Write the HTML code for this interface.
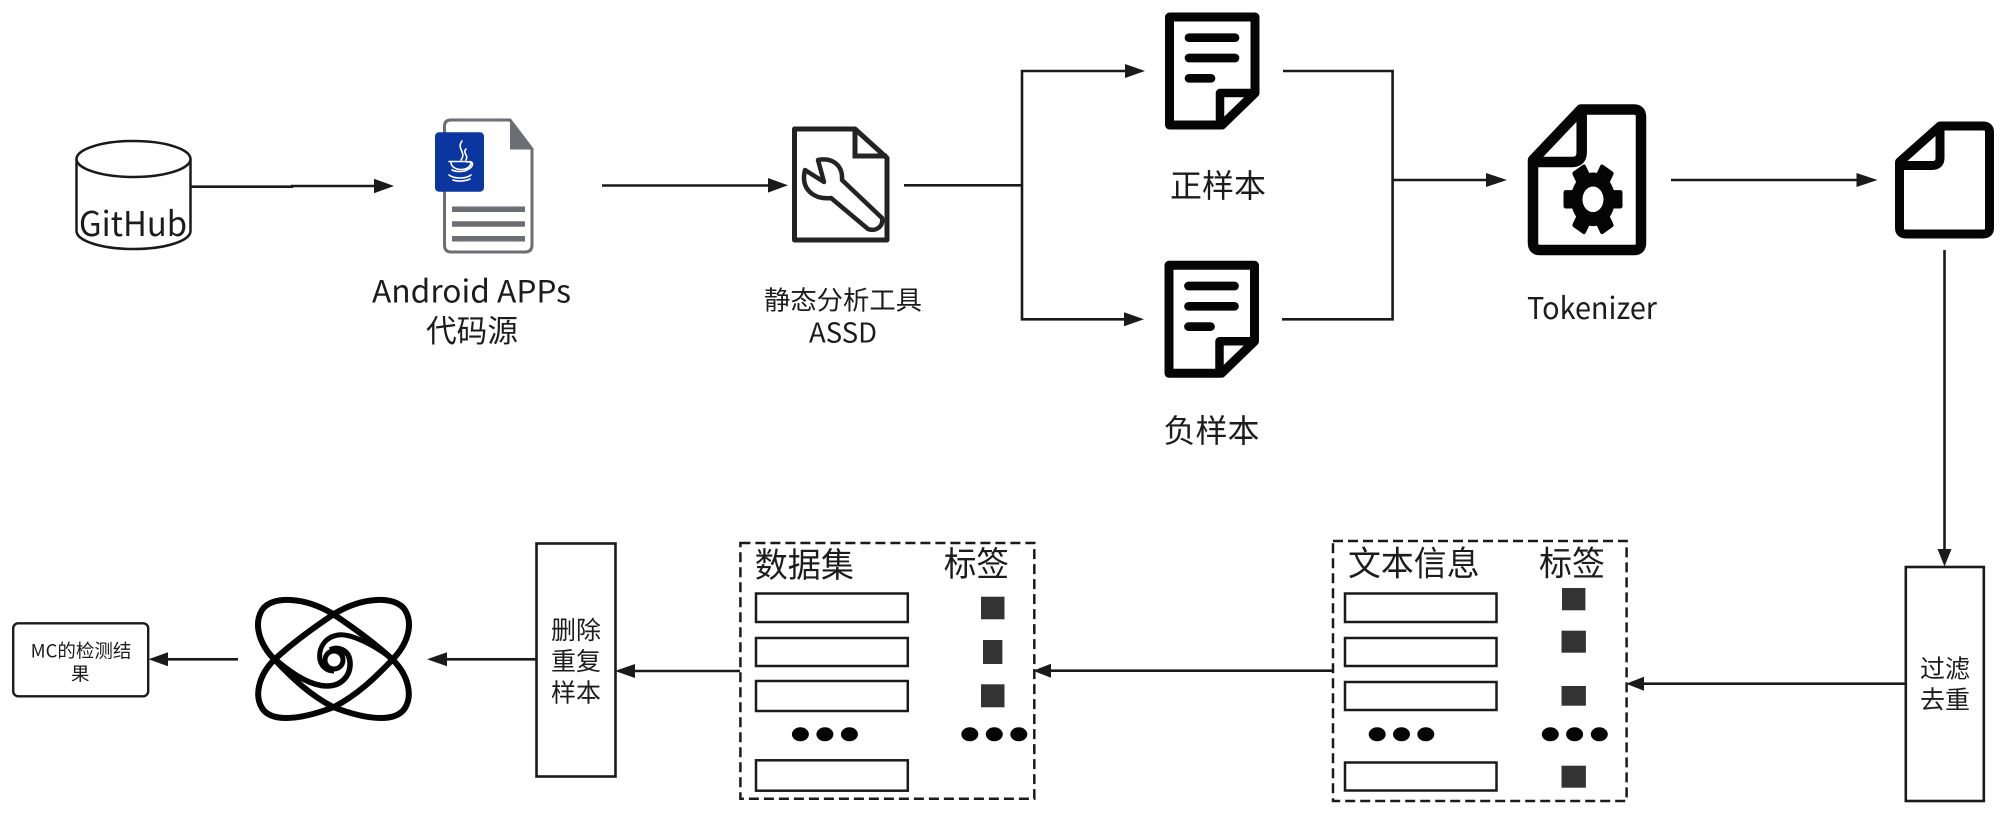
<!DOCTYPE html>
<html lang="zh">
<head>
<meta charset="utf-8">
<title>Diagram</title>
<style>
html,body{margin:0;padding:0;background:#fff;}
svg{display:block;filter:blur(0.35px);}
text{font-family:"Liberation Sans","Noto Sans CJK SC",sans-serif;fill:#1c1c1c;}
.c{font-family:"Noto Sans CJK SC","Liberation Sans",sans-serif;}
</style>
</head>
<body>
<svg width="2000" height="815" viewBox="0 0 2000 815" xmlns="http://www.w3.org/2000/svg">
<rect width="2000" height="815" fill="#fff"/>

<!-- GitHub cylinder -->
<path d="M76.5 159 V231 C76.5 241 102 249 133.5 249 C165 249 190.5 241 190.5 231 V159" fill="#fff" stroke="#1a1a1a" stroke-width="2.5"/>
<ellipse cx="133.5" cy="159" rx="57" ry="18" fill="#fff" stroke="#1a1a1a" stroke-width="2.5"/>
<text class="c" x="79" y="236" font-size="34" textLength="108" lengthAdjust="spacingAndGlyphs">GitHub</text>

<!-- connectors -->
<g stroke="#1a1a1a" stroke-width="2.6" fill="none">
<path d="M191 186.7 H292 V186 H376"/>
<path d="M602 185.5 H770"/>
<path d="M904 185.3 H1022"/>
<path d="M1127 71 H1022 V319.3 H1126"/>
<path d="M1283 71 H1392.6 V319.3 H1282"/>
<path d="M1392.6 180 H1488"/>
<path d="M1671 180 H1858"/>
<path d="M1944.5 250 V552"/>
<path d="M1904.6 683.7 H1642"/>
<path d="M1332 670.7 H1050"/>
<path d="M740 671 H633"/>
<path d="M535.5 659.3 H445"/>
<path d="M238 659.3 H166"/>
</g>
<g fill="#1a1a1a">
<polygon points="394,186 374,178.8 374,193.2"/>
<polygon points="788,185.3 768,178 768,192.6"/>
<polygon points="1145,71 1125,64 1125,78"/>
<polygon points="1144,319.3 1124,312.3 1124,326.3"/>
<polygon points="1507,180 1486,173 1486,187"/>
<polygon points="1877.5,180 1856.5,173 1856.5,187"/>
<polygon points="1944.5,566.5 1937.5,549 1951.5,549"/>
<polygon points="1626,683.7 1644,676.7 1644,690.7"/>
<polygon points="1033,670.7 1051,663.7 1051,677.7"/>
<polygon points="615,671 635,664 635,678"/>
<polygon points="427,659.3 447,652.3 447,666.3"/>
<polygon points="148.5,659.3 168,652.3 168,666.3"/>
</g>

<!-- Java doc -->
<path d="M510 120 H451 Q444.5 120 444.5 126 V245 Q444.5 252 451 252 H525 Q532 252 532 245 V149 Z" fill="#fff" stroke="#6d6d74" stroke-width="3"/>
<polygon points="510,119 533.5,149.5 510,149.5" fill="#6d6d74"/>
<rect x="435" y="132.3" width="49" height="59.4" rx="4" fill="#0b36a0"/>
<g stroke="#6d6d74" stroke-width="5.5">
<path d="M452 209.3 H525"/><path d="M452 224 H525"/><path d="M452 238.7 H525"/>
</g>
<g stroke="#fff" stroke-width="1.6" fill="none" stroke-linecap="round">
<path d="M462 141 C456 149 467 152 461 160"/>
<path d="M466 149 C462 153 469 155 466 160"/>
<path d="M451 162 C451 172 471 172 471 162"/>
<path d="M449 161.5 H467 M467 162 C475 160 474 168 466 170"/>
<path d="M452 170 C456 172 464 172 467 170"/>
<path d="M449 175 C454 179 466 179 471 175"/>
<path d="M453 180 C458 182 466 181 470 179"/>
</g>
<text class="c" x="372" y="302.7" font-size="31" textLength="199" lengthAdjust="spacingAndGlyphs">Android APPs</text>
<text class="c" x="426" y="342" font-size="31" textLength="92" lengthAdjust="spacingAndGlyphs">代码源</text>

<!-- Tool doc -->
<path d="M794.5 129 H855 L887 158 V240 H794.5 Z" fill="#fff" stroke="#232323" stroke-width="5" stroke-linejoin="round"/>
<path d="M855 129 V156 H887" fill="none" stroke="#232323" stroke-width="5"/>
<path d="M805 170 L824 182 L818 160 C832 157 843 165 842 180 L882 218 C884 226 876 232 868 229 L831 198 C815 200 800 190 805 170 Z" fill="#fff" stroke="#232323" stroke-width="4.5" stroke-linejoin="round"/>
<text class="c" x="764" y="309.5" font-size="26" textLength="158" lengthAdjust="spacingAndGlyphs">静态分析工具</text>
<text class="c" x="809" y="342.5" font-size="27" textLength="68" lengthAdjust="spacingAndGlyphs">ASSD</text>

<!-- Sample docs -->
<g>
<path d="M1169.5 17 H1255 V93 L1222 125 H1169.5 Z" fill="#fff" stroke="#050505" stroke-width="9" stroke-linejoin="round"/>
<path d="M1220 125 V93 H1255" fill="none" stroke="#050505" stroke-width="8.5" stroke-linejoin="round"/>
<g stroke="#050505" stroke-width="8.7" stroke-linecap="round">
<path d="M1189 37.7 H1235"/><path d="M1189 58 H1235"/><path d="M1189 78.3 H1211"/>
</g>
</g>
<g transform="translate(-0.5 248.3)">
<path d="M1169.5 17 H1255 V93 L1222 125 H1169.5 Z" fill="#fff" stroke="#050505" stroke-width="9" stroke-linejoin="round"/>
<path d="M1220 125 V93 H1255" fill="none" stroke="#050505" stroke-width="8.5" stroke-linejoin="round"/>
<g stroke="#050505" stroke-width="8.7" stroke-linecap="round">
<path d="M1189 37.7 H1235"/><path d="M1189 58 H1235"/><path d="M1189 78.3 H1211"/>
</g>
</g>
<text class="c" x="1170" y="197" font-size="32" textLength="96" lengthAdjust="spacingAndGlyphs">正样本</text>
<text class="c" x="1163.5" y="442" font-size="32" textLength="96" lengthAdjust="spacingAndGlyphs">负样本</text>

<!-- Tokenizer doc -->
<path d="M1533 160 L1581 109.5 H1634 Q1641 109.5 1641 117 V243 Q1641 250 1634 250 H1540 Q1533 250 1533 243 Z" fill="#fff" stroke="#050505" stroke-width="10.5" stroke-linejoin="round"/>
<path d="M1581.7 110 V152 Q1581.7 162 1572 162 H1533" fill="none" stroke="#050505" stroke-width="10.5"/>
<g transform="translate(1593 199.3) scale(1 1.22)">
<g fill="#050505">
<circle r="22"/>
<rect x="-7.5" y="-29.5" width="15" height="14" rx="2" transform="rotate(30)"/>
<rect x="-7.5" y="-29.5" width="15" height="14" rx="2" transform="rotate(90)"/>
<rect x="-7.5" y="-29.5" width="15" height="14" rx="2" transform="rotate(150)"/>
<rect x="-7.5" y="-29.5" width="15" height="14" rx="2" transform="rotate(210)"/>
<rect x="-7.5" y="-29.5" width="15" height="14" rx="2" transform="rotate(270)"/>
<rect x="-7.5" y="-29.5" width="15" height="14" rx="2" transform="rotate(330)"/>
</g>
<circle r="10.5" fill="#fff"/>
</g>
<text class="c" x="1527" y="319" font-size="30" textLength="130" lengthAdjust="spacingAndGlyphs">Tokenizer</text>

<!-- Small doc -->
<path d="M1899.5 162 L1940 126 H1983 Q1989.5 126 1989.5 132 V228 Q1989.5 234 1983 234 H1906 Q1899.5 234 1899.5 228 Z" fill="#fff" stroke="#050505" stroke-width="9" stroke-linejoin="round"/>
<path d="M1940 126 V158 Q1940 165.5 1932 165.5 H1899.5" fill="none" stroke="#050505" stroke-width="9"/>

<!-- Filter box -->
<rect x="1905.8" y="567" width="78" height="234" fill="#fff" stroke="#1a1a1a" stroke-width="2.6"/>
<text class="c" x="1920" y="677.5" font-size="25" textLength="50" lengthAdjust="spacingAndGlyphs">过滤</text>
<text class="c" x="1920" y="708.5" font-size="25" textLength="50" lengthAdjust="spacingAndGlyphs">去重</text>

<!-- Text info panel -->
<rect x="1333" y="541" width="293.6" height="260" fill="none" stroke="#1a1a1a" stroke-width="2.5" stroke-dasharray="10 5"/>
<text class="c" x="1348" y="575.5" font-size="34" textLength="131.6" lengthAdjust="spacingAndGlyphs">文本信息</text>
<text class="c" x="1539" y="575.5" font-size="34" textLength="66" lengthAdjust="spacingAndGlyphs">标签</text>
<g fill="#fff" stroke="#1a1a1a" stroke-width="2.5">
<rect x="1345" y="593.5" width="151.5" height="28.5"/>
<rect x="1345" y="638" width="151.5" height="28"/>
<rect x="1345" y="682" width="151.5" height="28"/>
<rect x="1345" y="762.5" width="151.5" height="28"/>
</g>
<g fill="#333">
<rect x="1562" y="588" width="23.4" height="22.3"/>
<rect x="1561.5" y="630.7" width="24.4" height="22"/>
<rect x="1561.5" y="686" width="24.4" height="19.7"/>
<rect x="1561.5" y="765.7" width="24.4" height="22"/>
</g>
<g fill="#050505">
<ellipse cx="1377.2" cy="734.3" rx="8.5" ry="7"/><ellipse cx="1401.5" cy="734.3" rx="8.5" ry="7"/><ellipse cx="1425.8" cy="734.3" rx="8.5" ry="7"/>
<ellipse cx="1550.3" cy="734.3" rx="8.5" ry="7"/><ellipse cx="1574.6" cy="734.3" rx="8.5" ry="7"/><ellipse cx="1599.3" cy="734.3" rx="8.5" ry="7"/>
</g>

<!-- Dataset panel -->
<rect x="740.4" y="543" width="293.9" height="255.7" fill="none" stroke="#1a1a1a" stroke-width="2.5" stroke-dasharray="10 5"/>
<text class="c" x="754.7" y="577" font-size="34" textLength="99.2" lengthAdjust="spacingAndGlyphs">数据集</text>
<text class="c" x="943.7" y="576" font-size="34" textLength="65.3" lengthAdjust="spacingAndGlyphs">标签</text>
<g fill="#fff" stroke="#1a1a1a" stroke-width="2.5">
<rect x="756" y="593.5" width="151.8" height="28.5"/>
<rect x="756" y="638" width="151.8" height="28"/>
<rect x="756" y="681" width="151.8" height="30"/>
<rect x="756" y="760.3" width="151.8" height="30.4"/>
</g>
<g fill="#333">
<rect x="981" y="596.7" width="23.5" height="22.6"/>
<rect x="983" y="640" width="19.4" height="24"/>
<rect x="981" y="684.3" width="23.5" height="23"/>
</g>
<g fill="#050505">
<ellipse cx="800.4" cy="734.3" rx="8.5" ry="7"/><ellipse cx="824.9" cy="734.3" rx="8.5" ry="7"/><ellipse cx="849.4" cy="734.3" rx="8.5" ry="7"/>
<ellipse cx="969.8" cy="734.3" rx="8.5" ry="7"/><ellipse cx="994.3" cy="734.3" rx="8.5" ry="7"/><ellipse cx="1018.8" cy="734.3" rx="8.5" ry="7"/>
</g>

<!-- Delete box -->
<rect x="536.5" y="543.5" width="79" height="233" fill="#fff" stroke="#1a1a1a" stroke-width="2.6"/>
<text class="c" x="551" y="639" font-size="25" textLength="50" lengthAdjust="spacingAndGlyphs">删除</text>
<text class="c" x="551" y="670" font-size="25" textLength="50" lengthAdjust="spacingAndGlyphs">重复</text>
<text class="c" x="551" y="701.5" font-size="25" textLength="50" lengthAdjust="spacingAndGlyphs">样本</text>

<!-- Atom model icon -->
<g fill="none" stroke="#050505" stroke-width="6">
<path d="M333 614 C360 632 378 646 393 660 C408 675 413 695 405 708 C397 721 372 722 333 707 C310 695 292 678 275 660 C260 645 253 625 262 610 C272 595 305 597 333 614 Z"/>
<path transform="matrix(-1 0 0 1 667 0)" d="M333 614 C360 632 378 646 393 660 C408 675 413 695 405 708 C397 721 372 722 333 707 C310 695 292 678 275 660 C260 645 253 625 262 610 C272 595 305 597 333 614 Z"/>
<path d="M393 660 C375 645 350 633 338 635 C325 637 318 648 320 660 C322 668 328 671 334 671" stroke-width="5"/>
<path d="M276 660 C290 672 310 686 327 686 C342 686 351 675 350 662 C349 650 338 646 330 650" stroke-width="5.5"/>
<circle cx="334" cy="660" r="9" stroke-width="5"/>
</g>

<!-- Result box -->
<rect x="13.2" y="623.3" width="135" height="73" rx="5" fill="#fff" stroke="#1a1a1a" stroke-width="2.4"/>
<text class="c" x="30.6" y="657.5" font-size="18.5" textLength="100.8" lengthAdjust="spacingAndGlyphs">MC的检测结</text>
<text class="c" x="71" y="680.5" font-size="18.5" textLength="18.5" lengthAdjust="spacingAndGlyphs">果</text>
</svg>
</body>
</html>
